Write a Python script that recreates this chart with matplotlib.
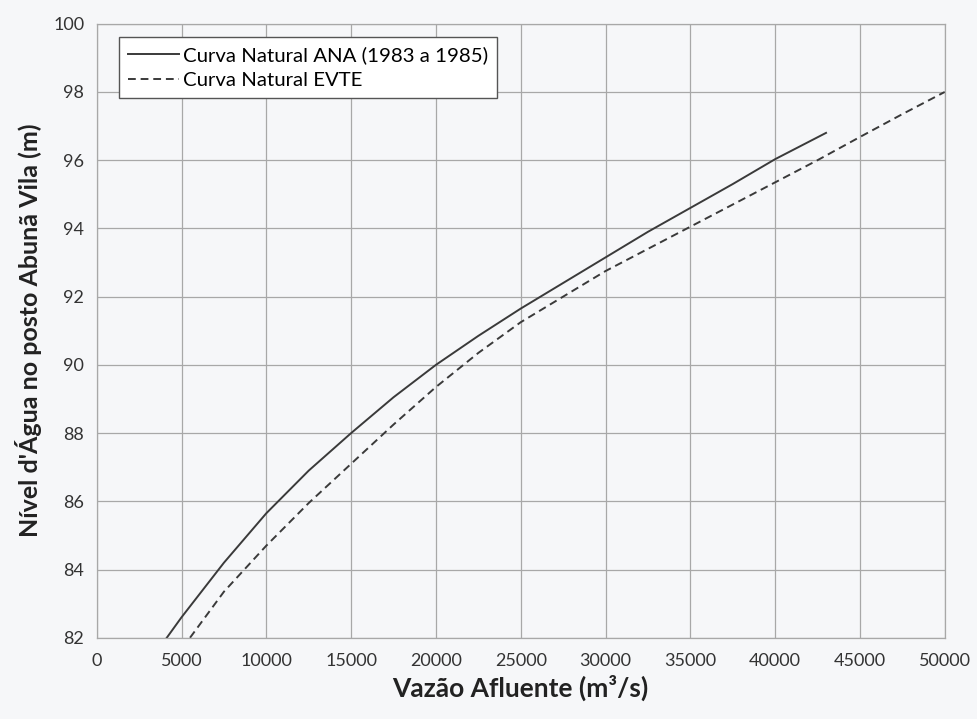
import numpy as np
import matplotlib.pyplot as plt

# Curva-chave no posto Abunã Vila: vazão (m³/s) x nível (m)
vazao_ana = [4130, 5000, 7500, 10000, 12500, 15000, 17500, 20000, 22500,
             25000, 27500, 30000, 32500, 35000, 37500, 40000, 43000]
nivel_ana = [82.0, 82.6, 84.2, 85.65, 86.9, 88.0, 89.05, 90.0, 90.85,
             91.65, 92.4, 93.15, 93.9, 94.6, 95.3, 96.03, 96.8]

vazao_evte = [5500, 7500, 10000, 12500, 15000, 17500, 20000, 22500, 25000,
              27500, 30000, 32500, 35000, 37500, 40000, 42500, 45000, 47500, 50000]
nivel_evte = [82.0, 83.35, 84.7, 85.95, 87.1, 88.25, 89.35, 90.35, 91.25,
              92.0, 92.75, 93.4, 94.05, 94.7, 95.35, 96.0, 96.68, 97.35, 98.0]

x_ticks = list(range(0, 50001, 5000))
y_ticks = list(range(82, 101, 2))

plt.rcParams['font.family'] = ['Lato', 'DejaVu Sans']

fig = plt.figure(figsize=(9.77, 7.19), dpi=100)
fig.patch.set_facecolor('#f6f7f9')
ax = fig.add_axes([0.099, 0.113, 0.868, 0.854])
ax.set_facecolor('#f6f7f9')

ax.plot(vazao_ana, nivel_ana, color='#3a3a3a', lw=1.4, label='Curva Natural ANA (1983 a 1985)')
ax.plot(vazao_evte, nivel_evte, color='#3a3a3a', lw=1.4, ls=(0, (4, 2.5)), label='Curva Natural EVTE')

ax.set_xlim(0, 50000)
ax.set_ylim(82, 100)
ax.set_xticks(x_ticks)
ax.set_yticks(y_ticks)
ax.tick_params(length=0, labelsize=13, colors='#333333')
ax.tick_params(axis='x', pad=11)
ax.tick_params(axis='y', pad=9)
ax.grid(True, color='#a8a8a8', lw=0.9)
for s in ax.spines.values():
    s.set_color('#a8a8a8')
    s.set_linewidth(0.9)

ax.set_xlabel('Vazão Afluente (m³/s)', fontsize=19, fontweight='bold', color='#222222', labelpad=4)
ax.set_ylabel("Nível d'Água no posto Abunã Vila (m)", fontsize=18, fontweight='bold', color='#222222', labelpad=8)

leg = ax.legend(loc='upper left', bbox_to_anchor=(0.026, 0.979), fontsize=14.7, frameon=True,
                fancybox=False, edgecolor='#555555', facecolor='white', framealpha=1,
                handlelength=2.5, handletextpad=0.2, borderpad=0.45, labelspacing=0.4,
                borderaxespad=0)
leg.get_frame().set_linewidth(1.0)

fig.savefig('out.png', dpi=100, facecolor=fig.get_facecolor())
